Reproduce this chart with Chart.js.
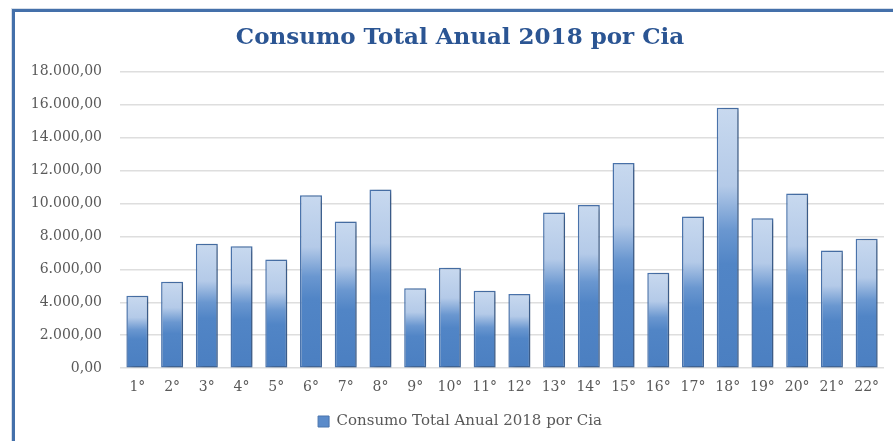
<!DOCTYPE html>
<html>
<head>
<meta charset="utf-8">
<script src="https://cdn.jsdelivr.net/npm/chart.js@4"></script>
<style>
  html, body { margin: 0; padding: 0; background: #ffffff; }
  #wrap { position: relative; width: 893px; height: 441px; overflow: hidden; }
  #c { position: absolute; left: 0; top: 0; }
  #frame {
    position: absolute; left: 12px; top: 9px; width: 1000px; height: 1000px;
    border-top: 3px solid #4470aa; border-left: 3px solid #4470aa;
    box-shadow: -1px -1px 0 0 #d6dee9;
    pointer-events: none;
  }
</style>
</head>
<body>
<div id="wrap">
  <canvas id="c" width="920" height="441"></canvas>
  <div id="frame"></div>
</div>
<script>
const chartTitle = 'Consumo Total Anual 2018 por Cia';
const seriesName = 'Consumo Total Anual 2018 por Cia';
const categories = ['1°','2°','3°','4°','5°','6°','7°','8°','9°','10°','11°','12°','13°','14°','15°','16°','17°','18°','19°','20°','21°','22°'];
const consumo = [4400, 5250, 7550, 7400, 6600, 10500, 8900, 10850, 4850, 6100, 4700, 4500, 9450, 9900, 12450, 5800, 9200, 15800, 9100, 10600, 7150, 7850];
const yMin = 0, yMax = 18000, yStep = 2000;

function fmtBR(v) {
  const parts = Math.abs(v).toFixed(2).split('.');
  const intPart = parts[0].replace(/\B(?=(\d{3})+(?!\d))/g, '.');
  return (v < 0 ? '-' : '') + intPart + ',' + parts[1];
}

function barFill(context) {
  const chart = context.chart;
  const ys = chart.scales && chart.scales.y;
  if (!ys || context.raw == null || context.type !== 'data') return '#6f97cf';
  const top = ys.getPixelForValue(context.raw);
  const base = ys.getPixelForValue(0);
  if (!isFinite(top) || !isFinite(base) || base - top < 1) return '#6f97cf';
  const g = chart.ctx.createLinearGradient(0, top, 0, base);
  g.addColorStop(0, '#c8d9ef');
  g.addColorStop(0.3, '#b4cae8');
  g.addColorStop(0.47, '#6a97d0');
  g.addColorStop(0.6, '#5185c6');
  g.addColorStop(1, '#4b7fc1');
  return g;
}

const shadowPlugin = {
  id: 'barShadow',
  beforeDatasetsDraw(chart) {
    const ctx = chart.ctx;
    ctx.save();
    ctx.shadowColor = 'rgba(0,0,0,0.28)';
    ctx.shadowBlur = 5;
    ctx.shadowOffsetX = 3;
    ctx.shadowOffsetY = 1;
  },
  afterDatasetsDraw(chart) {
    chart.ctx.restore();
  }
};

new Chart(document.getElementById('c'), {
  type: 'bar',
  data: {
    labels: categories,
    datasets: [{
      label: seriesName,
      data: consumo,
      backgroundColor: barFill,
      borderColor: '#4a74ad',
      borderWidth: 1.5,
      borderSkipped: false,
      barPercentage: 0.633,
      categoryPercentage: 1.0,
      yAxisID: 'y'
    }]
  },
  options: {
    responsive: false,
    animation: false,
    layout: { padding: { left: 0, right: 0, top: 0, bottom: 2 } },
    plugins: {
      title: {
        display: true,
        text: chartTitle,
        color: '#2b5593',
        font: { family: 'DejaVu Serif', size: 23, weight: 'bold' },
        padding: { top: 24, bottom: 20 }
      },
      legend: {
        display: true,
        position: 'bottom',
        labels: {
          color: '#595959',
          font: { family: 'DejaVu Serif', size: 15 },
          boxWidth: 11,
          boxHeight: 11,
          padding: 7,
          generateLabels: (chart) => [{
            text: seriesName,
            fillStyle: '#5b8bca',
            strokeStyle: '#4a74ad',
            lineWidth: 1,
            fontColor: '#595959',
            hidden: false,
            datasetIndex: 0
          }]
        }
      },
      tooltip: { enabled: false }
    },
    scales: {
      x: {
        grid: { display: false, drawTicks: false },
        border: { display: false },
        ticks: {
          color: '#595959',
          font: { family: 'DejaVu Serif', size: 14 },
          padding: 11,
          maxRotation: 0,
          autoSkip: false
        }
      },
      y: {
        min: yMin,
        max: yMax,
        afterFit: (s) => { s.width = 120; },
        grid: { color: '#dedede', lineWidth: 1.5, drawTicks: false },
        border: { display: false },
        ticks: {
          stepSize: yStep,
          color: '#595959',
          font: { family: 'DejaVu Serif', size: 14 },
          padding: 18,
          callback: (v) => fmtBR(v)
        }
      },
      spacer: {
        type: 'linear',
        position: 'right',
        display: true,
        afterFit: (s) => { s.width = 36; },
        grid: { display: false, drawTicks: false },
        border: { display: false },
        ticks: { display: false }
      }
    }
  },
  plugins: [shadowPlugin]
});
</script>
</body>
</html>
